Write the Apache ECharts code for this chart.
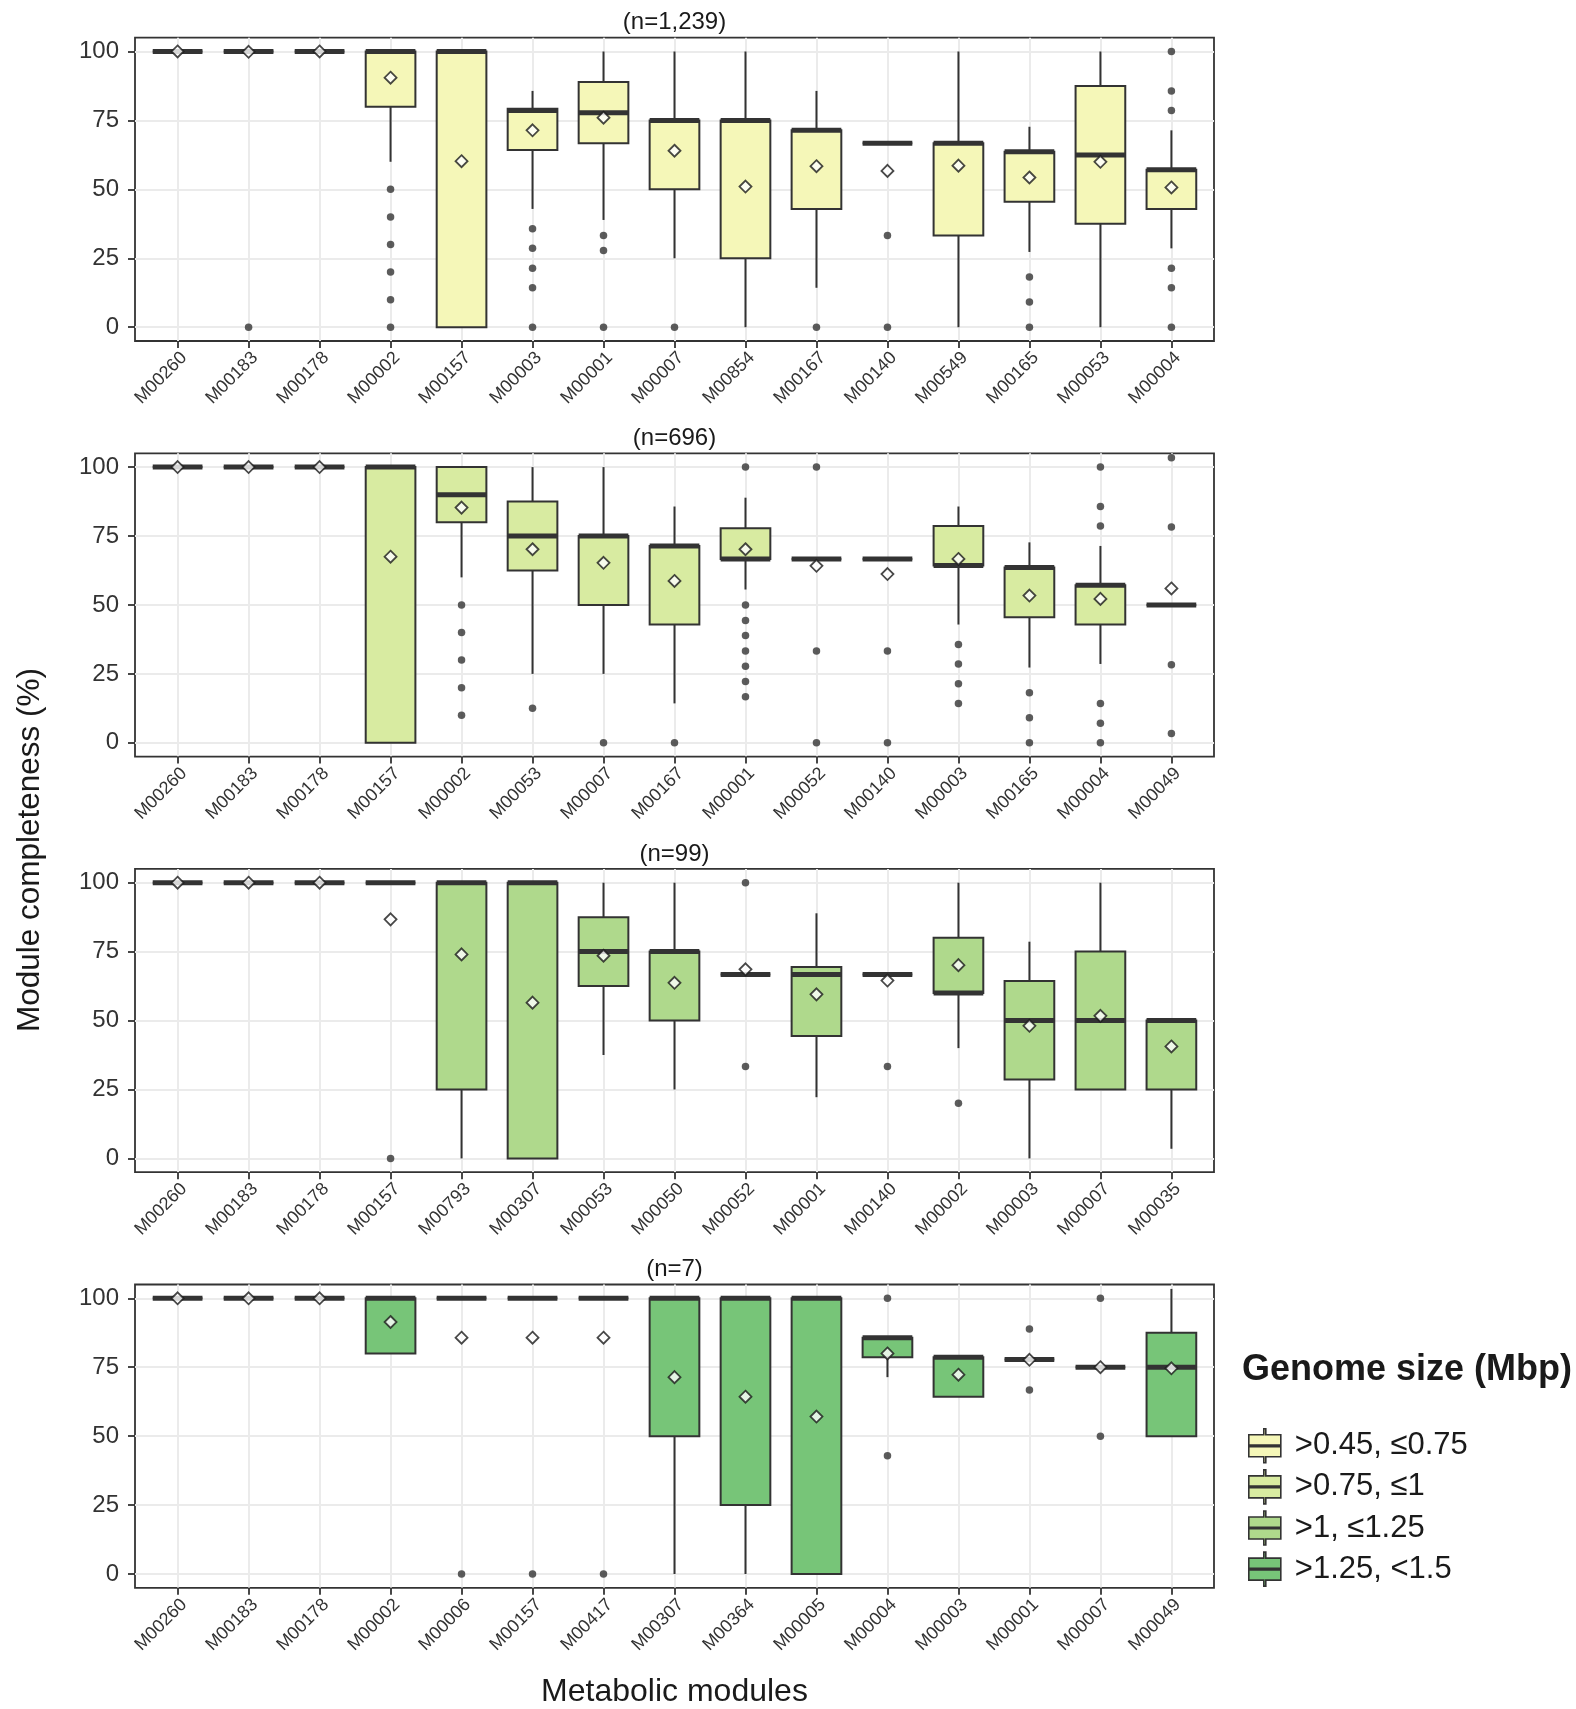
<!DOCTYPE html>
<html>
<head>
<meta charset="utf-8">
<title>Module completeness by genome size</title>
<script src="https://cdn.jsdelivr.net/npm/echarts@6/dist/echarts.min.js"></script>
<style>
  html, body { margin: 0; padding: 0; background: #fff; }
  #chart { width: 1576px; height: 1709px; }
</style>
</head>
<body>
<div id="chart"></div>
<script>
// genome size classes and sample counts (one panel each)
var groups = [">0.45, ≤0.75", ">0.75, ≤1", ">1, ≤1.25", ">1.25, <1.5"];
var counts = ["(n=1,239)", "(n=696)", "(n=99)", "(n=7)"];
var fills = ["#f5f7b8", "#d8eba1", "#afd98c", "#77c578"];
var yTicks = [0, 25, 50, 75, 100];

// boxes: [lower whisker, Q1, median, Q3, upper whisker]
var modules1 = ["M00260", "M00183", "M00178", "M00002", "M00157", "M00003", "M00001", "M00007", "M00854", "M00167", "M00140", "M00549", "M00165", "M00053", "M00004"];
var boxes1 = [
  [100, 100, 100, 100, 100], [100, 100, 100, 100, 100], [100, 100, 100, 100, 100],
  [60, 80, 100, 100, 100], [0, 0, 100, 100, 100], [42.9, 64.3, 78.6, 79.2, 85.7],
  [38.9, 66.7, 77.8, 88.9, 100], [25, 50, 75, 75, 100], [0, 25, 75, 75, 100],
  [14.3, 42.9, 71.4, 71.4, 85.7], [66.7, 66.7, 66.7, 66.7, 66.7], [0, 33.3, 66.7, 66.7, 100],
  [27.3, 45.5, 63.6, 63.6, 72.7], [0, 37.5, 62.5, 87.5, 100], [28.6, 42.9, 57.1, 57.1, 71.4]
];
var means1 = [100, 99.9, 100, 90.5, 60.2, 71.4, 76, 64, 51, 58.4, 56.7, 58.6, 54.3, 60, 50.7];
var outliers1 = [[], [0], [], [50, 40, 30, 20, 10, 0], [], [35.7, 28.6, 21.4, 14.3, 0],
  [33.3, 27.8, 0], [0], [], [0], [33.3, 0], [], [18.2, 9.1, 0], [], [100, 85.7, 78.6, 21.4, 14.3, 0]];

var modules2 = ["M00260", "M00183", "M00178", "M00157", "M00002", "M00053", "M00007", "M00167", "M00001", "M00052", "M00140", "M00003", "M00165", "M00004", "M00049"];
var boxes2 = [
  [100, 100, 100, 100, 100], [100, 100, 100, 100, 100], [100, 100, 100, 100, 100],
  [0, 0, 100, 100, 100], [60, 80, 90, 100, 100], [25, 62.5, 75, 87.5, 100],
  [25, 50, 75, 75, 100], [14.3, 42.9, 71.4, 71.4, 85.7], [55.6, 66.7, 66.7, 77.8, 88.9],
  [66.7, 66.7, 66.7, 66.7, 66.7], [66.7, 66.7, 66.7, 66.7, 66.7], [42.9, 64.3, 64.3, 78.6, 85.7],
  [27.3, 45.5, 63.6, 63.6, 72.7], [28.6, 42.9, 57.1, 57.1, 71.4], [50, 50, 50, 50, 50]
];
var means2 = [100, 100, 100, 67.5, 85.3, 70.2, 65.3, 58.7, 70.2, 64.2, 61.2, 66.7, 53.4, 52.2, 56];
var outliers2 = [[], [], [], [], [50, 40, 30, 20, 10], [12.5], [0], [0],
  [100, 50, 44.4, 38.9, 33.3, 27.8, 22.2, 16.7], [100, 33.3, 0], [33.3, 0],
  [35.7, 28.6, 21.4, 14.3], [18.2, 9.1, 0], [100, 85.7, 78.6, 14.3, 7.1, 0], [103.4, 78.3, 28.3, 3.4]];

var modules3 = ["M00260", "M00183", "M00178", "M00157", "M00793", "M00307", "M00053", "M00050", "M00052", "M00001", "M00140", "M00002", "M00003", "M00007", "M00035"];
var boxes3 = [
  [100, 100, 100, 100, 100], [100, 100, 100, 100, 100], [100, 100, 100, 100, 100],
  [100, 100, 100, 100, 100], [0, 25, 100, 100, 100], [0, 0, 100, 100, 100],
  [37.5, 62.5, 75, 87.5, 100], [25, 50, 75, 75, 100], [66.7, 66.7, 66.7, 66.7, 66.7],
  [22.2, 44.4, 66.7, 69.4, 88.9], [66.7, 66.7, 66.7, 66.7, 66.7], [40, 60, 60, 80, 100],
  [0, 28.6, 50, 64.3, 78.6], [25, 25, 50, 75, 100], [3.5, 25, 50, 50, 50]
];
var means3 = [100, 100, 100, 86.7, 74, 56.5, 73.5, 63.7, 68.6, 59.5, 64.5, 70.1, 48.1, 51.7, 40.6];
var outliers3 = [[], [], [], [0], [], [], [], [], [100, 33.3], [], [33.3], [20], [], [], []];

var modules4 = ["M00260", "M00183", "M00178", "M00002", "M00006", "M00157", "M00417", "M00307", "M00364", "M00005", "M00004", "M00003", "M00001", "M00007", "M00049"];
var boxes4 = [
  [100, 100, 100, 100, 100], [100, 100, 100, 100, 100], [100, 100, 100, 100, 100],
  [80, 80, 100, 100, 100], [100, 100, 100, 100, 100], [100, 100, 100, 100, 100],
  [100, 100, 100, 100, 100], [0, 50, 100, 100, 100], [0, 25, 100, 100, 100],
  [0, 0, 100, 100, 100], [71.4, 78.6, 85.7, 85.7, 85.7], [64.3, 64.3, 78.6, 78.6, 78.6],
  [77.8, 77.8, 77.8, 77.8, 77.8], [75, 75, 75, 75, 75], [50, 50, 75, 87.5, 103.4]
];
var means4 = [100, 100, 100, 91.4, 85.7, 85.7, 85.7, 71.4, 64.3, 57.1, 80, 72.3, 77.7, 75, 74.6];
var outliers4 = [[], [], [], [], [0], [0], [0], [], [], [], [100, 42.9], [], [88.9, 66.7], [100, 50], []];

var panels = [
  { modules: modules1, boxes: boxes1, means: means1, outliers: outliers1 },
  { modules: modules2, boxes: boxes2, means: means2, outliers: outliers2 },
  { modules: modules3, boxes: boxes3, means: means3, outliers: outliers3 },
  { modules: modules4, boxes: boxes4, means: means4, outliers: outliers4 }
];

(function () {
  var myChart = echarts.init(document.getElementById("chart"));
  var font = "'Liberation Sans', Arial, Helvetica, sans-serif";
  var ink = "#333333";
  var plotLeft = 135, plotWidth = 1079, plotHeight = 303.3;
  var panelTop = function (k) { return 37.7 + 415.6 * k; };

  var idx = [];
  for (var i = 0; i < 15; i++) idx.push(i);

  var grids = [], xAxes = [], yAxes = [], series = [], graphics = [];

  panels.forEach(function (p, k) {
    grids.push({
      left: plotLeft, width: plotWidth, top: panelTop(k), height: plotHeight,
      show: true, backgroundColor: "#fff", borderColor: ink, borderWidth: 1.8,
      containLabel: false, outerBoundsMode: "none"
    });
    xAxes.push({
      type: "value", gridIndex: k, min: -0.6, max: 14.6,
      axisLine: { show: false, onZero: false },
      axisTick: { show: true, length: 7, customValues: idx, lineStyle: { color: ink, width: 1.8 } },
      axisLabel: {
        customValues: idx.map(function (v) { return v + 0.09; }),
        rotate: 45, margin: 14, fontSize: 18, color: ink, fontFamily: font,
        formatter: function (v) { return p.modules[Math.round(v)]; }
      },
      splitLine: { show: true, lineStyle: { color: "#ebebeb", width: 2 } }
    });
    yAxes.push({
      type: "value", gridIndex: k, min: -5, max: 105,
      axisLine: { show: false, onZero: false },
      axisTick: { show: true, length: 7, customValues: yTicks, lineStyle: { color: ink, width: 1.8 } },
      axisLabel: { customValues: yTicks, margin: 16, fontSize: 24, color: ink, fontFamily: font },
      splitLine: { show: true, lineStyle: { color: "#ebebeb", width: 2 } }
    });

    // box + whiskers, median drawn thick like ggplot
    series.push({
      name: groups[k],
      type: "custom",
      xAxisIndex: k, yAxisIndex: k,
      itemStyle: { color: fills[k] },
      encode: { x: 0, y: [1, 2, 3, 4, 5] },
      z: 2,
      renderItem: function (params, api) {
        var x = api.value(0);
        var lo = api.coord([x, api.value(1)]);
        var q1 = api.coord([x, api.value(2)]);
        var med = api.coord([x, api.value(3)]);
        var q3 = api.coord([x, api.value(4)]);
        var hi = api.coord([x, api.value(5)]);
        var w = api.size([0.7, 0])[0];
        var line = { stroke: ink, lineWidth: 2 };
        return {
          type: "group",
          children: [
            { type: "line", shape: { x1: lo[0], y1: lo[1], x2: q1[0], y2: q1[1] }, style: line },
            { type: "line", shape: { x1: q3[0], y1: q3[1], x2: hi[0], y2: hi[1] }, style: line },
            { type: "rect", shape: { x: q3[0] - w / 2, y: q3[1], width: w, height: q1[1] - q3[1] },
              style: { fill: fills[k], stroke: ink, lineWidth: 2 } },
            { type: "line", shape: { x1: med[0] - w / 2, y1: med[1], x2: med[0] + w / 2, y2: med[1] },
              style: { stroke: ink, lineWidth: 5 } }
          ]
        };
      },
      data: p.boxes.map(function (b, i) { return [i].concat(b); })
    });

    var outs = [];
    p.outliers.forEach(function (list, i) {
      list.forEach(function (v) { outs.push([i, v]); });
    });
    series.push({
      name: "outliers " + (k + 1),
      type: "scatter", xAxisIndex: k, yAxisIndex: k,
      symbol: "circle", symbolSize: 7.5, z: 3, silent: true,
      itemStyle: { color: ink },
      data: outs
    });
    series.push({
      name: "mean " + (k + 1),
      type: "scatter", xAxisIndex: k, yAxisIndex: k,
      symbol: "diamond", symbolSize: 12, z: 4, silent: true,
      itemStyle: { color: "#fff", borderColor: "#1a1a1a", borderWidth: 1.8 },
      data: p.means.map(function (m, i) { return [i, m]; })
    });

    graphics.push({
      type: "text", x: plotLeft + plotWidth / 2, y: panelTop(k) - 15,
      style: { text: counts[k], font: "24px " + font, fill: "#1a1a1a",
        align: "center", verticalAlign: "middle", textAlign: "center", textVerticalAlign: "middle" }
    });
  });

  graphics.push({
    type: "text", x: 30, y: 850, rotation: Math.PI / 2,
    style: { text: "Module completeness (%)", font: "31.5px " + font, fill: "#1a1a1a",
      align: "center", verticalAlign: "middle", textAlign: "center", textVerticalAlign: "middle" }
  });
  graphics.push({
    type: "text", x: plotLeft + plotWidth / 2, y: 1692,
    style: { text: "Metabolic modules", font: "32px " + font, fill: "#1a1a1a",
      align: "center", verticalAlign: "middle", textAlign: "center", textVerticalAlign: "middle" }
  });
  graphics.push({
    type: "text", x: 1242, y: 1370,
    style: { text: "Genome size (Mbp)", font: "bold 36px " + font, fill: "#1a1a1a",
      align: "left", verticalAlign: "middle", textAlign: "left", textVerticalAlign: "middle" }
  });

  // legend key: box with whisker stubs and a median bar
  var boxIcon = "path://M15,0L17,0L17,6L32,6L32,28L17,28L17,34L15,34L15,28L0,28L0,6L15,6ZM0,16.2L32,16.2L32,17.8L0,17.8Z";

  var option = {
    backgroundColor: "#fff",
    animation: false,
    grid: grids,
    xAxis: xAxes,
    yAxis: yAxes,
    legend: {
      orient: "vertical", left: 1248, top: 1428, padding: 0,
      itemWidth: 32, itemHeight: 34, itemGap: 5.5, selectedMode: false,
      itemStyle: { borderColor: ink, borderWidth: 1.6 },
      textStyle: { fontSize: 31, lineHeight: 34, color: "#1a1a1a", fontFamily: font, padding: [0, 0, 0, 9] },
      data: groups.map(function (g, k) {
        return { name: g, icon: boxIcon, itemStyle: { color: fills[k] } };
      })
    },
    graphic: graphics,
    series: series
  };
  myChart.setOption(option);
  window.addEventListener("resize", function () {
    myChart.resize();
  });
})();
</script>
</body>
</html>
